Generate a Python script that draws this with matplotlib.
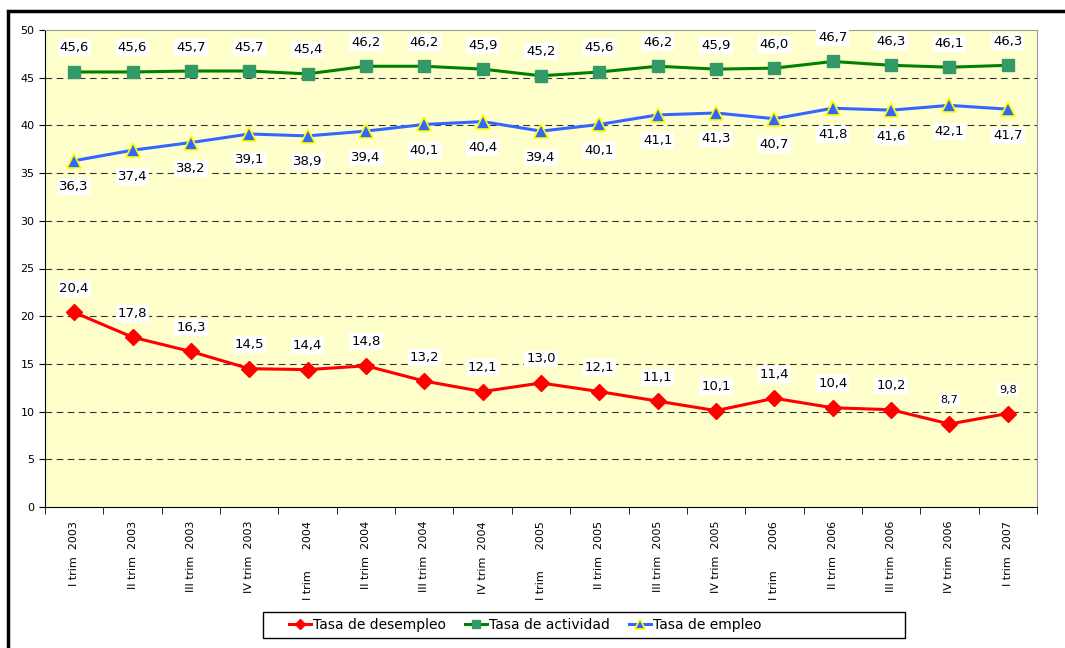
import matplotlib
matplotlib.use("Agg")
import matplotlib.pyplot as plt
from matplotlib.patches import Rectangle

# trimestres
categorias = ["I trim  2003", "II trim  2003", "III trim  2003", "IV trim  2003",
              "I trim      2004", "II trim  2004", "III trim  2004", "IV trim  2004",
              "I trim      2005", "II trim  2005", "III trim  2005", "IV trim  2005",
              "I trim      2006", "II trim  2006", "III trim  2006", "IV trim  2006",
              "I trim  2007"]

desempleo = [20.4, 17.8, 16.3, 14.5, 14.4, 14.8, 13.2, 12.1, 13.0, 12.1, 11.1, 10.1, 11.4, 10.4, 10.2, 8.7, 9.8]
actividad = [45.6, 45.6, 45.7, 45.7, 45.4, 46.2, 46.2, 45.9, 45.2, 45.6, 46.2, 45.9, 46.0, 46.7, 46.3, 46.1, 46.3]
empleo = [36.3, 37.4, 38.2, 39.1, 38.9, 39.4, 40.1, 40.4, 39.4, 40.1, 41.1, 41.3, 40.7, 41.8, 41.6, 42.1, 41.7]

plt.rcParams['font.family'] = ['DejaVu Sans']

fig = plt.figure(figsize=(10.65, 6.48), dpi=100)
W, H = 1065, 648
ax = fig.add_axes([45 / W, 1 - 507 / H, (1037 - 45) / W, (507 - 30) / H])
ax.set_facecolor("#FFFFCC")

# marco exterior (solo se ve arriba y a la izquierda)
fig.patches.append(Rectangle((8 / W, -0.1), 1.1, 1.1 - 11 / H, transform=fig.transFigure,
                             fill=False, edgecolor="black", linewidth=2.5))
# caja de la leyenda
fig.patches.append(Rectangle((263 / W, 1 - 638 / H), (905 - 263) / W, 26 / H, transform=fig.transFigure,
                             fill=False, edgecolor="black", linewidth=1))

x = list(range(len(categorias)))

ax.plot(x, desempleo, color="#FF0000", lw=2.2, marker="D", ms=8, mfc="#FF0000", mec="#FF0000",
        label="Tasa de desempleo", zorder=3)
ax.plot(x, actividad, color="#008000", lw=2.2, marker="s", ms=8.5, mfc="#339966", mec="#339966",
        label="Tasa de actividad", zorder=3)
ax.plot(x, empleo, color="#3366FF", lw=2.2, marker="^", ms=10, mfc="#3366FF", mec="#FFFF00",
        mew=1.2, label="Tasa de empleo", zorder=3)

caja = dict(boxstyle="square,pad=0.15", fc="white", ec="none")
for i in x:
    fs = 8 if desempleo[i] < 10 else 9.5
    ax.annotate(f"{desempleo[i]:.1f}".replace(".", ","), (i, desempleo[i]), xytext=(0, 24),
                textcoords="offset pixels", ha="center", va="center", fontsize=fs, bbox=caja, zorder=4)
    ax.annotate(f"{actividad[i]:.1f}".replace(".", ","), (i, actividad[i]), xytext=(0, 24),
                textcoords="offset pixels", ha="center", va="center", fontsize=9.5, bbox=caja, zorder=4)
    ax.annotate(f"{empleo[i]:.1f}".replace(".", ","), (i, empleo[i]), xytext=(0, -26),
                textcoords="offset pixels", ha="center", va="center", fontsize=9.5, bbox=caja, zorder=4)

ax.set_xlim(-0.5, len(categorias) - 0.5)
ax.set_ylim(0, 50)
ax.set_yticks(range(0, 51, 5))
ax.tick_params(axis="y", labelsize=8, length=4, direction="out")
for y in range(5, 50, 5):
    ax.axhline(y, color="#333333", lw=0.8, ls=(0, (6, 4)), zorder=1)

ax.set_xticks(x)
ax.set_xticklabels(categorias, rotation=90, fontsize=8)
ax.tick_params(axis="x", length=0, pad=10)
ax.set_xticks([i - 0.5 for i in range(len(categorias) + 1)], minor=True)
ax.tick_params(axis="x", which="minor", length=5, direction="out")

ax.spines["left"].set_color("black")
ax.spines["bottom"].set_color("black")
ax.spines["right"].set_color("#999999")
ax.spines["top"].set_color("#999999")

fig.legend(loc="center left", ncol=3, bbox_to_anchor=(289 / W, 1 - 625 / H),
           fontsize=10, frameon=False, borderpad=0, borderaxespad=0,
           handlelength=1.6, handletextpad=0.1, markerscale=0.7, columnspacing=1.4)

fig.savefig("out.png", dpi=100)
